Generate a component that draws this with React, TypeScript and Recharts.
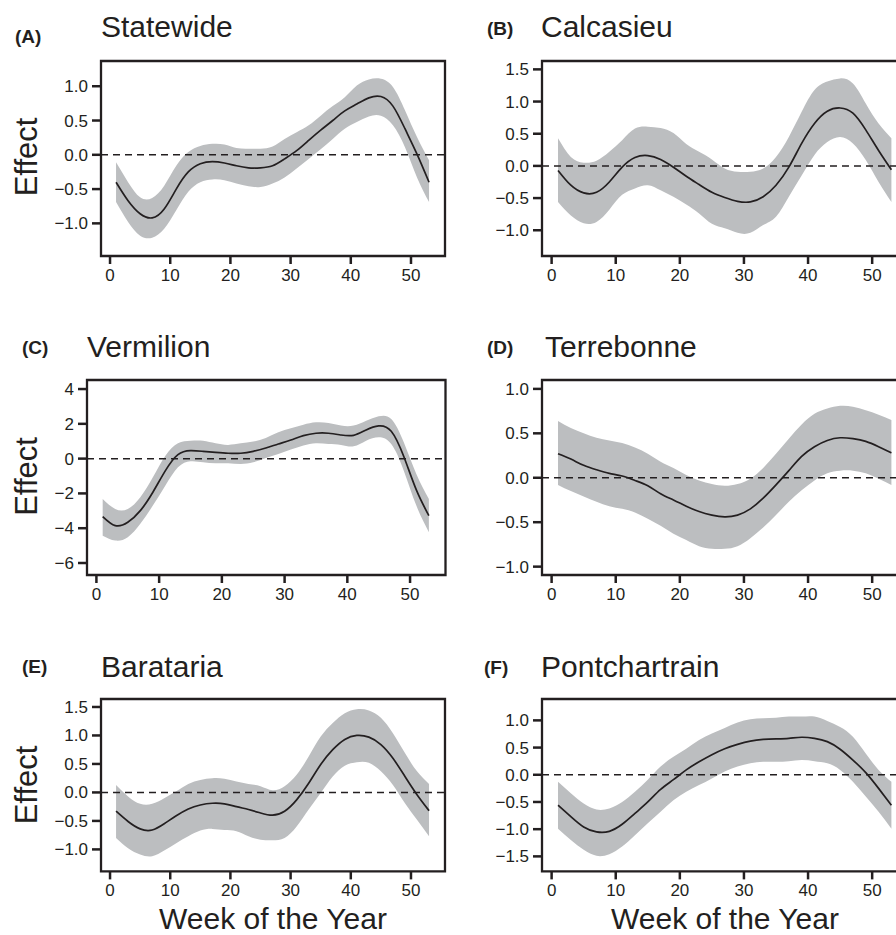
import React from 'react';
import { ComposedChart, Area, Line, XAxis, YAxis, ReferenceLine, ReferenceArea } from 'recharts';

const FONT = '"Liberation Sans", Arial, Helvetica, sans-serif';
const INK = '#231f20';
const BAND = '#bcbec0';

// Week of the year at which the smooth was read
const weeks = [1, 3, 5, 7, 9, 11, 13, 15, 17, 19, 21, 23, 25, 27, 29, 31, 33, 35, 37, 39, 41, 43, 45, 47, 49, 51, 53];
const xTicks = [0, 10, 20, 30, 40, 50];
const X_DOMAIN: [number, number] = [-1.5, 55.65];

// (A) Statewide
const meanA = [-0.40, -0.67, -0.86, -0.92, -0.79, -0.50, -0.25, -0.13, -0.10, -0.12, -0.16, -0.19, -0.19, -0.16, -0.06, 0.06, 0.21, 0.36, 0.50, 0.64, 0.74, 0.83, 0.85, 0.71, 0.38, 0.01, -0.40];
const lowerA = [-0.69, -0.98, -1.18, -1.21, -1.08, -0.81, -0.54, -0.40, -0.36, -0.37, -0.42, -0.46, -0.47, -0.42, -0.33, -0.20, -0.06, 0.08, 0.23, 0.38, 0.48, 0.56, 0.57, 0.43, 0.11, -0.33, -0.69];
const upperA = [-0.11, -0.40, -0.62, -0.63, -0.45, -0.16, 0.04, 0.13, 0.16, 0.15, 0.10, 0.09, 0.09, 0.12, 0.23, 0.33, 0.43, 0.57, 0.71, 0.84, 1.01, 1.10, 1.11, 0.99, 0.65, 0.26, -0.08];
const yTicksA = [-1, -0.5, 0, 0.5, 1];

// (B) Calcasieu
const meanB = [-0.07, -0.30, -0.42, -0.41, -0.25, -0.02, 0.13, 0.16, 0.10, -0.02, -0.16, -0.29, -0.41, -0.49, -0.55, -0.56, -0.48, -0.30, -0.02, 0.35, 0.66, 0.85, 0.90, 0.82, 0.56, 0.24, -0.06];
const upperB = [0.43, 0.14, 0.05, 0.08, 0.22, 0.40, 0.58, 0.61, 0.59, 0.51, 0.34, 0.22, 0.10, -0.04, -0.09, -0.09, -0.04, 0.14, 0.45, 0.84, 1.18, 1.31, 1.36, 1.28, 0.97, 0.66, 0.43];
const lowerB = [-0.56, -0.77, -0.89, -0.87, -0.68, -0.45, -0.35, -0.30, -0.38, -0.48, -0.60, -0.74, -0.90, -0.97, -1.04, -1.04, -0.92, -0.79, -0.48, -0.15, 0.17, 0.37, 0.45, 0.35, 0.09, -0.25, -0.56];
const yTicksB = [-1, -0.5, 0, 0.5, 1, 1.5];

// (C) Vermilion
const meanC = [-3.33, -3.85, -3.66, -2.99, -1.93, -0.69, 0.23, 0.46, 0.42, 0.36, 0.31, 0.31, 0.42, 0.61, 0.84, 1.07, 1.32, 1.46, 1.46, 1.36, 1.34, 1.65, 1.88, 1.57, 0.12, -1.80, -3.28];
const upperC = [-2.32, -2.89, -2.89, -2.22, -1.07, 0.17, 0.88, 1.03, 1.03, 0.88, 0.79, 0.88, 0.98, 1.19, 1.51, 1.74, 1.95, 2.09, 2.05, 1.90, 1.90, 2.18, 2.43, 2.28, 0.94, -0.88, -2.32];
const lowerC = [-4.43, -4.71, -4.52, -3.75, -2.70, -1.55, -0.50, -0.15, -0.21, -0.27, -0.27, -0.31, -0.21, 0.04, 0.27, 0.52, 0.75, 0.88, 0.84, 0.79, 0.71, 1.03, 1.23, 0.84, -0.69, -2.70, -4.23];
const yTicksC = [-6, -4, -2, 0, 2, 4];

// (D) Terrebonne
const meanD = [0.27, 0.21, 0.14, 0.09, 0.05, 0.02, -0.03, -0.09, -0.18, -0.25, -0.32, -0.38, -0.42, -0.44, -0.42, -0.35, -0.23, -0.08, 0.08, 0.24, 0.35, 0.42, 0.45, 0.44, 0.41, 0.35, 0.28];
const upperD = [0.64, 0.56, 0.50, 0.45, 0.42, 0.39, 0.34, 0.27, 0.18, 0.11, 0.03, -0.03, -0.07, -0.09, -0.07, -0.01, 0.11, 0.27, 0.44, 0.60, 0.72, 0.78, 0.81, 0.80, 0.76, 0.71, 0.65];
const lowerD = [-0.08, -0.15, -0.21, -0.27, -0.32, -0.35, -0.39, -0.46, -0.54, -0.63, -0.70, -0.77, -0.80, -0.80, -0.77, -0.68, -0.56, -0.42, -0.27, -0.14, -0.03, 0.05, 0.08, 0.08, 0.05, -0.01, -0.08];
const yTicksD = [-1, -0.5, 0, 0.5, 1];

// (E) Barataria
const meanE = [-0.33, -0.51, -0.64, -0.66, -0.55, -0.41, -0.29, -0.22, -0.19, -0.20, -0.25, -0.30, -0.36, -0.40, -0.33, -0.13, 0.16, 0.49, 0.75, 0.93, 1.00, 0.97, 0.84, 0.60, 0.28, -0.04, -0.32];
const upperE = [0.13, -0.07, -0.20, -0.20, -0.10, 0.02, 0.15, 0.22, 0.25, 0.24, 0.19, 0.15, 0.11, 0.04, 0.11, 0.31, 0.63, 0.98, 1.22, 1.39, 1.46, 1.44, 1.31, 1.04, 0.69, 0.37, 0.15];
const lowerE = [-0.80, -0.98, -1.09, -1.12, -1.02, -0.89, -0.77, -0.67, -0.64, -0.66, -0.68, -0.77, -0.83, -0.84, -0.80, -0.60, -0.30, -0.01, 0.28, 0.47, 0.53, 0.52, 0.37, 0.13, -0.19, -0.48, -0.77];
const yTicksE = [-1, -0.5, 0, 0.5, 1, 1.5];

// (F) Pontchartrain
const meanF = [-0.56, -0.77, -0.96, -1.05, -1.04, -0.91, -0.71, -0.50, -0.27, -0.09, 0.09, 0.24, 0.37, 0.48, 0.56, 0.62, 0.65, 0.66, 0.67, 0.69, 0.67, 0.61, 0.47, 0.27, 0.04, -0.25, -0.56];
const upperF = [-0.13, -0.34, -0.53, -0.64, -0.62, -0.50, -0.31, -0.09, 0.15, 0.33, 0.48, 0.64, 0.76, 0.86, 0.96, 1.02, 1.04, 1.05, 1.07, 1.07, 1.07, 0.99, 0.88, 0.70, 0.39, 0.09, -0.13];
const lowerF = [-0.99, -1.20, -1.38, -1.49, -1.46, -1.32, -1.11, -0.89, -0.68, -0.47, -0.31, -0.19, -0.07, 0.06, 0.15, 0.21, 0.24, 0.24, 0.25, 0.27, 0.25, 0.21, 0.09, -0.13, -0.40, -0.68, -0.99];
const yTicksF = [-1.5, -1, -0.5, 0, 0.5, 1];

const fmt = (decimals: number) => (v: number) =>
  (v < 0 ? '\u2212' : '') + Math.abs(v).toFixed(decimals);

type Box = { l: number; t: number; r: number; b: number };

function Panel(props: {
  box: Box;
  yDomain: [number, number];
  yTicks: number[];
  decimals: number;
  mean: number[];
  lower: number[];
  upper: number[];
}) {
  const { box, yDomain, yTicks, decimals, mean, lower, upper } = props;
  const YW = 60, XH = 40, MT = 10, MR = 10;
  const left = box.l - YW;
  const top = box.t - MT;
  const width = box.r - box.l + YW + MR;
  const height = box.b - box.t + MT + XH;
  const data = weeks.map((w, i) => ({ week: w, mean: mean[i], band: [lower[i], upper[i]] }));
  const tickStyle = { fill: INK, fontSize: 17, fontFamily: FONT };
  const tickLine = { stroke: INK, strokeWidth: 2.5 };
  return (
    <div style={{ position: 'absolute', left, top }}>
      <ComposedChart width={width} height={height} data={data} margin={{ top: MT, right: MR, bottom: 0, left: 0 }}>
        <XAxis
          type="number"
          dataKey="week"
          domain={X_DOMAIN}
          ticks={xTicks}
          allowDataOverflow
          height={XH}
          tickSize={8}
          tickMargin={5}
          axisLine={false}
          tickLine={tickLine}
          tick={tickStyle}
          interval={0}
        />
        <YAxis
          type="number"
          domain={yDomain}
          ticks={yTicks}
          allowDataOverflow
          width={YW}
          tickSize={9}
          tickMargin={4}
          axisLine={false}
          tickLine={tickLine}
          tick={tickStyle}
          tickFormatter={fmt(decimals)}
          interval={0}
        />
        <Area
          dataKey="band"
          type="natural"
          stroke="none"
          fill={BAND}
          fillOpacity={1}
          dot={false}
          activeDot={false}
          isAnimationActive={false}
        />
        <ReferenceLine y={0} stroke={INK} strokeWidth={1.5} strokeDasharray="7 5" />
        <Line
          dataKey="mean"
          type="natural"
          stroke={INK}
          strokeWidth={1.7}
          dot={false}
          activeDot={false}
          isAnimationActive={false}
        />
        <ReferenceArea
          x1={X_DOMAIN[0]}
          x2={X_DOMAIN[1]}
          y1={yDomain[0]}
          y2={yDomain[1]}
          fill="none"
          fillOpacity={0}
          stroke={INK}
          strokeWidth={2.3}
          ifOverflow="visible"
        />
      </ComposedChart>
    </div>
  );
}

const panelTitles = ['Statewide', 'Calcasieu', 'Vermilion', 'Terrebonne', 'Barataria', 'Pontchartrain'];
const panelLetters = ['(A)', '(B)', '(C)', '(D)', '(E)', '(F)'];

export default function App() {
  return (
    <div style={{ position: 'absolute', left: 0, top: 0, width: 896, height: 935, overflow: 'hidden', background: '#fff' }}>
      <Panel box={{ l: 101, t: 61, r: 445, b: 256 }} yDomain={[-1.476, 1.368]} yTicks={yTicksA} decimals={1} mean={meanA} lower={lowerA} upper={upperA} />
      <Panel box={{ l: 542, t: 61, r: 908.4, b: 256 }} yDomain={[-1.40, 1.63]} yTicks={yTicksB} decimals={1} mean={meanB} lower={lowerB} upper={upperB} />
      <Panel box={{ l: 86.5, t: 380, r: 445, b: 575 }} yDomain={[-6.69, 4.52]} yTicks={yTicksC} decimals={0} mean={meanC} lower={lowerC} upper={upperC} />
      <Panel box={{ l: 542, t: 380, r: 908.4, b: 575 }} yDomain={[-1.094, 1.10]} yTicks={yTicksD} decimals={1} mean={meanD} lower={lowerD} upper={upperD} />
      <Panel box={{ l: 101, t: 699.3, r: 445, b: 871.7 }} yDomain={[-1.386, 1.64]} yTicks={yTicksE} decimals={1} mean={meanE} lower={lowerE} upper={upperE} />
      <Panel box={{ l: 542, t: 699.3, r: 908.4, b: 871.7 }} yDomain={[-1.776, 1.393]} yTicks={yTicksF} decimals={1} mean={meanF} lower={lowerF} upper={upperF} />
      <svg width={896} height={935} style={{ position: 'absolute', left: 0, top: 0, pointerEvents: 'none' }}>
        <g fontFamily={FONT} fill={INK}>
          <text x={15} y={43} fontSize={19} fontWeight="bold">{panelLetters[0]}</text>
          <text x={101} y={37} fontSize={30}>{panelTitles[0]}</text>
          <text x={487} y={34.5} fontSize={19} fontWeight="bold">{panelLetters[1]}</text>
          <text x={541} y={37} fontSize={30}>{panelTitles[1]}</text>
          <text x={22} y={354} fontSize={19} fontWeight="bold">{panelLetters[2]}</text>
          <text x={87} y={357} fontSize={30}>{panelTitles[2]}</text>
          <text x={487} y={354} fontSize={19} fontWeight="bold">{panelLetters[3]}</text>
          <text x={545} y={357} fontSize={30}>{panelTitles[3]}</text>
          <text x={22} y={673} fontSize={19} fontWeight="bold">{panelLetters[4]}</text>
          <text x={101} y={677} fontSize={30}>{panelTitles[4]}</text>
          <text x={484} y={674} fontSize={19} fontWeight="bold">{panelLetters[5]}</text>
          <text x={541} y={677} fontSize={30}>{panelTitles[5]}</text>

          <text x={36.5} y={157} fontSize={31} textAnchor="middle" transform="rotate(-90 36.5 157)">Effect</text>
          <text x={36.5} y={476.5} fontSize={31} textAnchor="middle" transform="rotate(-90 36.5 476.5)">Effect</text>
          <text x={36.5} y={785} fontSize={31} textAnchor="middle" transform="rotate(-90 36.5 785)">Effect</text>

          <text x={273} y={928.5} fontSize={30} textAnchor="middle">Week of the Year</text>
          <text x={725} y={928.5} fontSize={30} textAnchor="middle">Week of the Year</text>
        </g>
      </svg>
    </div>
  );
}
